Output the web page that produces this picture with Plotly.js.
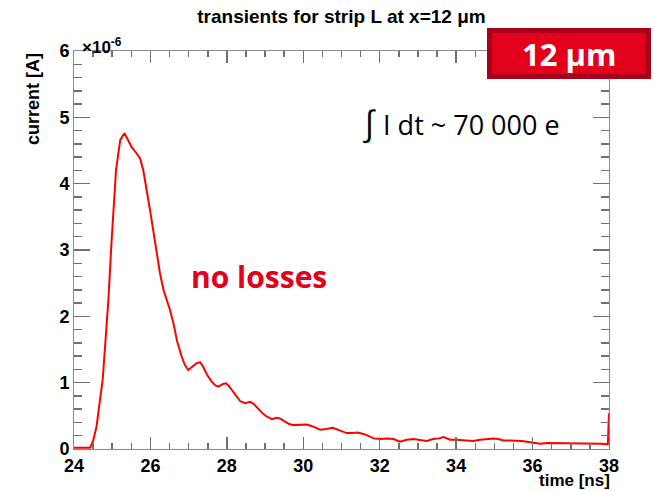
<!DOCTYPE html>
<html>
<head>
<meta charset="utf-8">
<script src="https://cdn.plot.ly/plotly-3.0.1.min.js"></script>
<style>
  html, body { margin: 0; padding: 0; background: #fff; }
  #chart { width: 654px; height: 491px; }
</style>
</head>
<body>
<div id="chart"></div>
<script>
// Induced current transient on strip L, charge deposited at x = 12 um.
// Time in ns, current in units of 1e-6 A (axis multiplier shown as x10^-6).
const timeNs = [
  24.00, 24.20, 24.42, 24.50, 24.59, 24.68, 24.75, 24.82, 24.90, 24.98,
  25.05, 25.10, 25.21, 25.32, 25.42, 25.51, 25.62, 25.73, 25.81, 25.90,
  25.99, 26.08, 26.16, 26.25, 26.34, 26.42, 26.51, 26.60, 26.70, 26.82,
  26.90, 26.99, 27.10, 27.20, 27.30, 27.38, 27.48, 27.60, 27.70, 27.78,
  27.90, 27.98, 28.05, 28.13, 28.25, 28.35, 28.48, 28.61, 28.70, 28.83,
  28.95, 29.04, 29.18, 29.30, 29.39, 29.50, 29.62, 29.74, 29.90, 30.09,
  30.25, 30.44, 30.60, 30.77, 30.95, 31.14, 31.30, 31.42, 31.55, 31.66,
  31.84, 32.01, 32.19, 32.36, 32.53, 32.71, 32.88, 33.05, 33.23, 33.40,
  33.55, 33.67, 33.84, 34.00, 34.19, 34.32, 34.45, 34.63, 34.80, 34.98,
  35.10, 35.24, 35.40, 35.59, 35.72, 35.85, 36.02, 36.20, 36.38, 36.55,
  36.75, 36.98, 37.10, 37.25, 37.46, 37.59, 37.80, 37.97, 38.00
];
const currentE6 = [
  0.02, 0.02, 0.02, 0.12, 0.34, 0.74, 1.04, 1.60, 2.25, 3.10,
  3.80, 4.21, 4.66, 4.76, 4.65, 4.55, 4.47, 4.38, 4.21, 3.92,
  3.60, 3.27, 2.95, 2.65, 2.40, 2.26, 2.10, 1.90, 1.62, 1.39,
  1.27, 1.19, 1.24, 1.29, 1.31, 1.24, 1.12, 1.02, 0.96, 0.94,
  0.98, 0.99, 0.95, 0.89, 0.79, 0.72, 0.69, 0.71, 0.68, 0.60,
  0.53, 0.49, 0.45, 0.47, 0.46, 0.42, 0.38, 0.36, 0.36, 0.37,
  0.34, 0.29, 0.30, 0.32, 0.28, 0.24, 0.24, 0.25, 0.23, 0.21,
  0.16, 0.15, 0.16, 0.15, 0.11, 0.14, 0.15, 0.13, 0.12, 0.15,
  0.16, 0.18, 0.14, 0.14, 0.13, 0.13, 0.12, 0.14, 0.15, 0.16,
  0.15, 0.13, 0.13, 0.13, 0.12, 0.11, 0.09, 0.08, 0.09, 0.09,
  0.08, 0.09, 0.09, 0.08, 0.09, 0.08, 0.08, 0.07, 0.54
];

// Labelled major ticks on the time axis.
const xMajorTicks = [24, 26, 28, 30, 32, 34, 36, 38];

const chartTitle = 'transients for strip L at x=12 \u03bcm';
const xTitle = 'time [ns]';
const yTitle = 'current [A]';
const yMultiplier = '\u00d710<sup>-6</sup>';
const badgeText = '12 \u03bcm';
const chargeText = '<span style="font-size:34px">\u222b</span> I dt ~ 70 000 e';
const curveLabel = 'no losses';

const rootFont = 'Liberation Sans, Arial, sans-serif';
const slideFont = 'Open Sans, Noto Sans, sans-serif';
const axisGray = '#8a8a8a';
const tickGray = '#707070';
const slideRed = '#e2001a';
const labelFont = { family: rootFont, size: 18, color: '#000', weight: 'bold' };

const trace = {
  x: timeNs,
  y: currentE6,
  type: 'scatter',
  mode: 'lines',
  line: { color: '#ff0000', width: 2 },
  hoverinfo: 'skip'
};

const layout = {
  width: 654,
  height: 491,
  margin: { l: 74, r: 45, t: 51, b: 42 },
  paper_bgcolor: '#fff',
  plot_bgcolor: '#fff',
  showlegend: false,
  title: {
    text: chartTitle,
    font: { family: rootFont, size: 19, color: '#000', weight: 'bold' },
    x: 0.5, xref: 'paper', xanchor: 'center',
    y: 0.967, yref: 'container', yanchor: 'middle'
  },
  xaxis: {
    range: [24, 38],
    tickmode: 'array', tickvals: xMajorTicks,
    ticks: 'inside', ticklen: 12, tickcolor: tickGray, tickwidth: 1.5,
    showline: true, linecolor: axisGray, mirror: 'ticks',
    showgrid: false, zeroline: false,
    tickfont: labelFont,
    minor: { dtick: 0.5, ticks: 'inside', ticklen: 6, tickcolor: tickGray, tickwidth: 1.5 }
  },
  yaxis: {
    range: [0, 6],
    dtick: 1,
    ticks: 'inside', ticklen: 16, tickcolor: tickGray, tickwidth: 1.5,
    showline: true, linecolor: axisGray, mirror: 'ticks',
    showgrid: false, zeroline: false,
    tickfont: labelFont,
    minor: { dtick: 0.2, ticks: 'inside', ticklen: 8, tickcolor: tickGray, tickwidth: 1.5 }
  },
  shapes: [
    {
      type: 'rect', xref: 'paper', yref: 'paper', layer: 'above',
      x0: (489.5 - 74) / 535, x1: (648.5 - 74) / 535,
      y0: (449 - 76.5) / 398, y1: (449 - 30.5) / 398,
      fillcolor: slideRed,
      line: { color: '#a6001a', width: 5 }
    }
  ],
  annotations: [
    {
      text: yMultiplier, xref: 'paper', yref: 'paper', showarrow: false,
      x: (80 - 74) / 535, y: (449 - 46) / 398, xanchor: 'left', yanchor: 'middle',
      font: { family: rootFont, size: 17, color: '#000', weight: 'bold' }
    },
    {
      text: yTitle, xref: 'paper', yref: 'paper', showarrow: false, textangle: -90,
      x: (33 - 74) / 535, y: 1, xanchor: 'center', yanchor: 'top',
      font: { family: rootFont, size: 18, color: '#000', weight: 'bold' }
    },
    {
      text: xTitle, xref: 'paper', yref: 'paper', showarrow: false,
      x: (612 - 74) / 535, y: (449 - 480) / 398, xanchor: 'right', yanchor: 'middle',
      font: { family: rootFont, size: 17, color: '#000', weight: 'bold' }
    },
    {
      text: badgeText, xref: 'paper', yref: 'paper', showarrow: false,
      x: (569 - 74) / 535, y: (449 - 54) / 398, xanchor: 'center', yanchor: 'middle',
      font: { family: slideFont, size: 31, color: '#fff', weight: 'bold' }
    },
    {
      text: chargeText, xref: 'paper', yref: 'paper', showarrow: false,
      x: (361 - 74) / 535, y: (449 - 122) / 398, xanchor: 'left', yanchor: 'middle',
      font: { family: slideFont, size: 27, color: '#000' }
    },
    {
      text: curveLabel, xref: 'paper', yref: 'paper', showarrow: false,
      x: (189 - 74) / 535, y: (449 - 276) / 398, xanchor: 'left', yanchor: 'middle',
      font: { family: slideFont, size: 30, color: slideRed, weight: 'bold' }
    }
  ]
};

Plotly.newPlot('chart', [trace], layout, { staticPlot: true, displayModeBar: false });
</script>
</body>
</html>
